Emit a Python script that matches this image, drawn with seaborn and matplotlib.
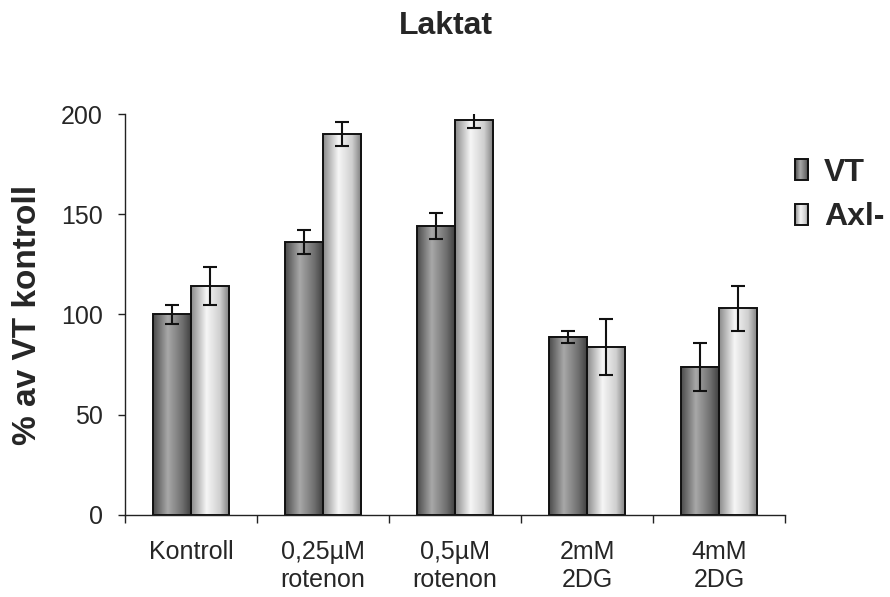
import numpy as np
import pandas as pd
import matplotlib
matplotlib.use("Agg")
import matplotlib.pyplot as plt
import seaborn as sns
from matplotlib.patches import Patch, Rectangle
from matplotlib.colors import LinearSegmentedColormap

categories = ["Kontroll", "0,25µM\nrotenon", "0,5µM\nrotenon", "2mM\n2DG", "4mM\n2DG"]
series = ["VT", "Axl-"]
vt_values = [100, 136, 144, 89, 74]
axl_values = [114, 190, 197, 84, 103]
vt_err = [4.5, 6, 6.5, 3, 12]
axl_err = [9.5, 6, 4, 14, 11]
yticks = [0, 50, 100, 150, 200]

sns.set_theme(style="white")
plt.rcParams['font.family'] = ['Liberation Sans', 'DejaVu Sans']

df = pd.DataFrame({
    "cat": categories * 2,
    "grp": [series[0]] * 5 + [series[1]] * 5,
    "val": vt_values + axl_values,
})

fig = plt.figure(figsize=(8.9, 5.97), dpi=100)
ax = fig.add_axes([0.1404, 0.1374, 0.882 - 0.1404, 0.809 - 0.1374])

sns.barplot(data=df, x="cat", y="val", hue="grp", order=categories,
            hue_order=series, errorbar=None, width=0.58, gap=0,
            palette=["#777777", "#dddddd"], ax=ax, legend=False)

cmap_vt = LinearSegmentedColormap.from_list("vt", [(0, "#4a4a4a"), (0.38, "#a8a8a8"), (0.75, "#707070"), (1, "#3c3c3c")])
cmap_ax = LinearSegmentedColormap.from_list("ax", [(0, "#8a8a8a"), (0.4, "#f6f6f6"), (0.75, "#cfcfcf"), (1, "#7a7a7a")])
grad = np.linspace(0, 1, 256).reshape(1, -1)

bars = [p for p in ax.patches if p.get_height() > 0]
errs = vt_err + axl_err
for i, p in enumerate(bars):
    x, w, h = p.get_x(), p.get_width(), p.get_height()
    cm = cmap_vt if i < 5 else cmap_ax
    ax.imshow(grad, extent=[x, x + w, 0, h], aspect="auto", cmap=cm, zorder=1.5, interpolation="bilinear")
    p.set_facecolor("none")
    p.set_edgecolor("#111111")
    p.set_linewidth(1.4)
    p.set_zorder(2)
    ax.errorbar(x + w / 2, h, yerr=errs[i], color="#111111", capsize=5, elinewidth=1.5, capthick=1.5, zorder=3, fmt="none")

ax.set_xlim(-0.5, 4.5)
ax.set_ylim(0, 200)
ax.set_yticks(yticks)
ax.set_yticklabels([str(t) for t in yticks], fontsize=18)
ax.set_xticks(range(5))
ax.set_xticklabels(categories, fontsize=18, linespacing=1.2)
ax.set_xticks([-0.5, 0.5, 1.5, 2.5, 3.5, 4.5], minor=True)
ax.tick_params(axis="x", which="major", length=0, pad=18)
ax.tick_params(axis="x", which="minor", length=6, width=1, color="#222222", direction="out", bottom=True)
ax.tick_params(axis="y", length=5, width=1, color="#222222", direction="out", left=True, pad=11)
ax.set_xlabel("")
ax.set_ylabel("% av VT kontroll", fontsize=24, fontweight="bold", labelpad=13)
for s in ["top", "right"]:
    ax.spines[s].set_visible(False)
for s in ["left", "bottom"]:
    ax.spines[s].set_color("#222222")
    ax.spines[s].set_linewidth(1)

fig.text(0.501, 0.956, "Laktat", ha="center", va="center", fontsize=23, fontweight="bold")

handles = [Patch(facecolor="none", edgecolor="none", label="VT"),
           Patch(facecolor="none", edgecolor="none", label="Axl-")]
leg = fig.legend(handles=handles, loc="center left", bbox_to_anchor=(0.893, 0.673), frameon=False,
                 prop={"weight": "bold", "size": 23}, handlelength=0.42, handleheight=0.62,
                 handletextpad=0.5, labelspacing=0.45, borderpad=0, borderaxespad=0)

fig.canvas.draw()
inv = fig.transFigure.inverted()
for patch, cm in zip(leg.get_patches(), [cmap_vt, cmap_ax]):
    bb = patch.get_window_extent()
    (x0, y0), (x1, y1) = inv.transform([[bb.x0, bb.y0], [bb.x1, bb.y1]])
    lax = fig.add_axes([x0, y0, x1 - x0, y1 - y0])
    lax.imshow(grad, extent=[0, 1, 0, 1], aspect="auto", cmap=cm, interpolation="bilinear")
    lax.add_patch(Rectangle((0, 0), 1, 1, facecolor="none", edgecolor="#111111", linewidth=1.4, transform=lax.transAxes, clip_on=False))
    lax.set_xlim(0, 1)
    lax.set_ylim(0, 1)
    lax.axis("off")

fig.savefig("out.png", dpi=100)
